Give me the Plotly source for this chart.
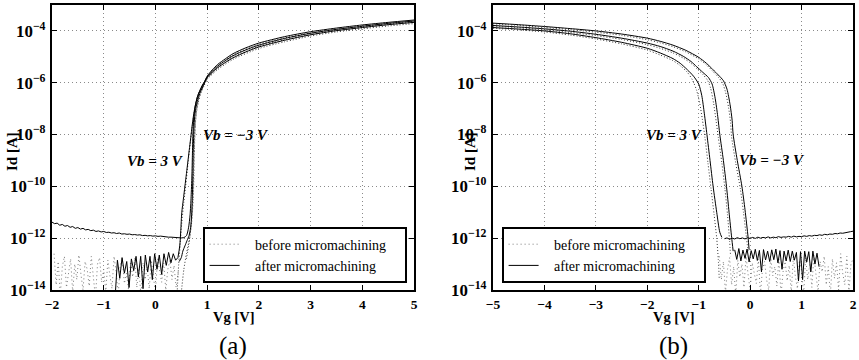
import plotly.graph_objects as go

# Drain current Id versus gate voltage Vg, before and after micromachining,
# for body biases Vb = 3 V, 0 V and -3 V.  Currents are kept as log10(Id [A]).


def sweep(start, step, n):
    """Evenly spaced Vg sweep points."""
    return [round(start + step * i, 4) for i in range(n)]


# ------------------------------------------------------------------ (a) n-channel, Vg = -2 .. 5 V
# after micromachining, Vb = 3 V: noisy floor from -0.78 V (step 0.045 V), then turn-on
a_after_vb3_floor_log = [
    -14.3, -12.85, -13.55, -12.75, -13.35, -12.9, -13.9, -12.8, -13.25, -12.7, -13.5, -12.7,
    -13.95, -12.65, -13.3, -12.7, -13.6, -12.6, -13.2, -12.65, -13.4, -12.6, -13.05, -12.55,
    -12.95, -12.6, -12.85, -12.75,
]
a_after_vb3_on_vg = [0.435, 0.47, 0.49, 0.51, 0.54, 0.57, 0.60, 0.63, 0.66, 0.69, 0.72, 0.75,
                     0.78, 0.82, 0.86, 0.90, 0.95, 1.0, 1.1, 1.2, 1.35, 1.5, 1.75, 2.0, 2.5,
                     3.0, 3.5, 4.0, 4.5, 5.0]
a_after_vb3_on_log = [-12.75, -12.3, -11.7, -11.0, -10.5, -10.0, -9.5, -9.0, -8.5, -8.0, -7.5,
                      -7.1, -6.8, -6.5, -6.3, -6.12, -5.95, -5.75, -5.5, -5.3, -5.08, -4.88,
                      -4.65, -4.47, -4.22, -4.03, -3.89, -3.77, -3.67, -3.58]

# after micromachining, Vb = 0 V: leakage floor from -2 V (step 0.05 V), then turn-on
a_after_vb0_floor_log = [
    -11.38, -11.44, -11.42, -11.50, -11.47, -11.54, -11.51, -11.58, -11.55, -11.62, -11.59,
    -11.65, -11.62, -11.68, -11.66, -11.71, -11.69, -11.74, -11.72, -11.76, -11.74, -11.78,
    -11.77, -11.80, -11.79, -11.82, -11.80, -11.84, -11.83, -11.85, -11.84, -11.87, -11.86,
    -11.88, -11.87, -11.90, -11.89, -11.91, -11.90, -11.92, -11.91, -11.93, -11.92, -11.94,
    -11.95, -11.96, -11.96, -11.97, -11.98, -11.99, -11.99, -11.98,
]
a_after_vb0_on_vg = [0.55, 0.60, 0.64, 0.67, 0.69, 0.705, 0.715, 0.725, 0.74, 0.77, 0.81,
                     0.86, 0.92, 1.0, 1.1, 1.2, 1.35, 1.5, 1.75, 2.0, 2.5, 3.0, 3.5, 4.0,
                     4.5, 5.0]
a_after_vb0_on_log = [-11.98, -11.9, -11.6, -11.1, -10.4, -9.6, -8.8, -8.0, -7.4, -6.9, -6.55,
                      -6.3, -6.08, -5.78, -5.55, -5.36, -5.15, -4.96, -4.73, -4.55, -4.29,
                      -4.09, -3.94, -3.82, -3.71, -3.62]

# after micromachining, Vb = -3 V
a_after_vbm3_vg = [0.46, 0.50, 0.53, 0.57, 0.61, 0.65, 0.68, 0.70, 0.715, 0.725, 0.73, 0.74,
                   0.755, 0.78, 0.82, 0.87, 0.93, 1.0, 1.1, 1.2, 1.35, 1.5, 1.75, 2.0, 2.5,
                   3.0, 3.5, 4.0, 4.5, 5.0]
a_after_vbm3_log = [-12.9, -12.75, -12.5, -12.3, -12.1, -11.9, -11.6, -11.1, -10.3, -9.5,
                    -8.7, -8.0, -7.4, -7.0, -6.65, -6.35, -6.1, -5.8, -5.6, -5.42, -5.22,
                    -5.04, -4.81, -4.62, -4.36, -4.15, -3.99, -3.87, -3.76, -3.67]

# before micromachining: noise floor from -1.96 V (step 0.04 V)
a_before_floor_log = [
    -12.6, -13.8, -12.9, -14.2, -13.1, -12.7, -13.9, -13.3, -12.8, -14.1, -13.0, -13.6,
    -12.65, -13.4, -14.0, -12.9, -13.2, -13.85, -12.7, -13.5, -14.3, -13.0, -12.75, -13.7,
    -13.2, -14.1, -12.85, -13.45, -13.95, -12.7, -13.3, -14.2, -13.05, -12.8, -13.75, -13.35,
    -14.0, -12.9, -13.5, -12.75, -13.9, -13.15, -14.25, -12.95, -13.6, -13.1, -13.95, -12.85,
    -13.4, -14.1, -12.8, -13.3, -13.7, -12.95, -14.0, -13.2, -12.85, -13.6, -13.05, -13.9,
    -13.3,
]
# before micromachining, Vb = 3 V / 0 V / -3 V
a_before_vb3_vg = [0.42, 0.45, 0.48, 0.51, 0.55, 0.59, 0.63, 0.67, 0.71, 0.75, 0.80, 0.86,
                   0.93, 1.0, 1.2, 1.5, 2.0, 2.5, 3.0, 3.5, 4.0, 4.5, 5.0]
a_before_vb3_log = [-14.1, -13.0, -12.2, -11.4, -10.6, -9.9, -9.1, -8.4, -7.7, -7.15, -6.7,
                    -6.35, -6.08, -5.82, -5.37, -4.93, -4.52, -4.27, -4.08, -3.94, -3.82,
                    -3.72, -3.63]
a_before_vb0_vg = [0.60, 0.65, 0.69, 0.72, 0.735, 0.75, 0.77, 0.80, 0.85, 0.92, 1.0, 1.2,
                   1.5, 2.0, 2.5, 3.0, 3.5, 4.0, 4.5, 5.0]
a_before_vb0_log = [-12.8, -12.2, -11.5, -10.5, -9.5, -8.5, -7.6, -7.0, -6.5, -6.15, -5.85,
                    -5.45, -5.02, -4.6, -4.34, -4.14, -3.99, -3.87, -3.76, -3.67]
a_before_vbm3_vg = [0.50, 0.55, 0.60, 0.66, 0.70, 0.73, 0.745, 0.755, 0.77, 0.79, 0.83, 0.88,
                    0.94, 1.0, 1.2, 1.5, 2.0, 2.5, 3.0, 3.5, 4.0, 4.5, 5.0]
a_before_vbm3_log = [-14.1, -13.2, -12.6, -12.0, -11.4, -10.5, -9.5, -8.5, -7.7, -7.2, -6.75,
                     -6.4, -6.12, -5.87, -5.5, -5.1, -4.68, -4.42, -4.2, -4.04, -3.92, -3.81,
                     -3.72]

# ------------------------------------------------------------------ (b) p-channel, Vg = -5 .. 2 V
# after micromachining, Vb = 3 V: turn-off, then leakage floor from -0.5 V (step 0.05 V)
b_after_vb3_off_vg = [-5.0, -4.5, -4.0, -3.5, -3.0, -2.5, -2.0, -1.75, -1.5, -1.36, -1.22,
                      -1.1, -1.0, -0.94, -0.89, -0.84, -0.78, -0.72, -0.65, -0.59, -0.55]
b_after_vb3_off_log = [-3.87, -3.93, -4.0, -4.11, -4.26, -4.44, -4.67, -4.85, -5.07, -5.25,
                       -5.5, -5.75, -6.05, -6.5, -7.2, -8.0, -9.0, -10.0, -11.0, -11.77,
                       -11.97]
b_after_vb3_floor_log = [
    -12.02, -11.99, -12.04, -12.00, -12.03, -11.98, -12.02, -11.99, -12.03, -11.98, -12.01,
    -11.97, -12.01, -11.96, -12.00, -11.97, -11.99, -11.95, -11.99, -11.96, -11.98, -11.94,
    -11.97, -11.95, -11.96, -11.93, -11.96, -11.92, -11.95, -11.93, -11.94, -11.91, -11.93,
    -11.90, -11.92, -11.89, -11.90, -11.87, -11.89, -11.85, -11.87, -11.84, -11.85, -11.82,
    -11.83, -11.80, -11.81, -11.78, -11.78, -11.75, -11.73,
]
# after micromachining, Vb = 0 V: turn-off, then noisy floor from -0.30 V (step 0.04 V)
b_after_vb0_off_vg = [-5.0, -4.5, -4.0, -3.5, -3.0, -2.5, -2.0, -1.75, -1.5, -1.3, -1.15,
                      -1.04, -0.92, -0.81, -0.74, -0.68, -0.63, -0.59, -0.52, -0.46, -0.41,
                      -0.36, -0.33]
b_after_vb0_off_log = [-3.79, -3.85, -3.92, -4.01, -4.13, -4.28, -4.47, -4.6, -4.78, -4.98,
                       -5.18, -5.38, -5.6, -5.8, -6.05, -6.6, -7.3, -8.0, -9.0, -10.0, -11.0,
                       -11.97, -12.5]
b_after_vb0_floor_log = [
    -12.45, -12.82, -12.40, -12.88, -12.46, -12.78, -12.42, -12.92, -12.48, -12.80, -12.43,
    -12.86, -12.47, -13.30, -12.44, -12.84, -12.50, -12.90, -12.45, -12.83, -12.42, -12.95,
    -12.48, -13.20, -12.50, -12.88, -12.46, -12.90, -12.50, -12.85, -12.55, -13.65, -12.52,
    -13.60, -12.50, -12.92, -12.52, -13.30, -12.50, -13.00, -12.58, -13.10,
]
# after micromachining, Vb = -3 V
b_after_vbm3_vg = [-5.0, -4.5, -4.0, -3.5, -3.0, -2.5, -2.0, -1.75, -1.5, -1.25, -1.0, -0.85,
                   -0.72, -0.62, -0.52, -0.45, -0.39, -0.35, -0.33, -0.25, -0.16, -0.10,
                   -0.04, -0.02]
b_after_vbm3_log = [-3.70, -3.76, -3.83, -3.91, -4.0, -4.12, -4.28, -4.4, -4.55, -4.75, -5.02,
                    -5.25, -5.5, -5.7, -5.92, -6.25, -6.85, -7.45, -8.0, -9.0, -10.0, -10.9,
                    -11.97, -12.45]

# before micromachining, Vb = 3 V / 0 V / -3 V
b_before_vb3_vg = [-5.0, -4.5, -4.0, -3.5, -3.0, -2.5, -2.0, -1.75, -1.5, -1.36, -1.22, -1.12,
                   -1.04, -0.98, -0.93, -0.88, -0.82, -0.76, -0.70, -0.65, -0.62, -0.60]
b_before_vb3_log = [-3.9, -3.96, -4.04, -4.16, -4.31, -4.5, -4.74, -4.93, -5.15, -5.34, -5.6,
                    -5.9, -6.3, -6.8, -7.4, -8.1, -9.1, -10.1, -11.1, -12.0, -12.8, -13.6]
b_before_vb0_vg = [-5.0, -4.5, -4.0, -3.5, -3.0, -2.5, -2.0, -1.75, -1.5, -1.3, -1.15, -1.04,
                   -0.92, -0.83, -0.77, -0.71, -0.66, -0.62, -0.55, -0.49, -0.44, -0.40,
                   -0.38]
b_before_vb0_log = [-3.82, -3.88, -3.96, -4.06, -4.18, -4.33, -4.53, -4.67, -4.85, -5.05,
                    -5.25, -5.45, -5.68, -5.9, -6.2, -6.8, -7.5, -8.1, -9.1, -10.1, -11.1,
                    -12.1, -12.7]
b_before_vbm3_vg = [-5.0, -4.5, -4.0, -3.5, -3.0, -2.5, -2.0, -1.75, -1.5, -1.25, -1.0, -0.85,
                    -0.72, -0.62, -0.54, -0.48, -0.42, -0.38, -0.36, -0.28, -0.19, -0.13,
                    -0.07, -0.04]
b_before_vbm3_log = [-3.73, -3.79, -3.87, -3.95, -4.05, -4.17, -4.34, -4.46, -4.61, -4.81,
                     -5.08, -5.31, -5.57, -5.78, -6.0, -6.35, -6.95, -7.55, -8.1, -9.1, -10.1,
                     -11.0, -12.0, -12.5]
# before micromachining: noise floor from -0.60 V (step 0.04 V)
b_before_floor_log = [
    -12.7, -13.6, -12.9, -14.1, -13.2, -12.75, -13.8, -13.1, -14.2, -12.85, -13.5, -13.0,
    -13.9, -12.7, -13.4, -14.0, -12.95, -13.3, -13.75, -12.8, -14.15, -13.2, -12.9, -13.6,
    -14.0, -12.75, -13.45, -13.1, -13.85, -12.8, -14.2, -13.3, -12.9, -13.65, -13.05, -14.1,
    -12.7, -13.5, -13.95, -12.85, -13.25, -14.2, -12.75, -13.6, -13.0, -13.9, -12.65, -13.4,
    -14.05, -12.9, -13.3, -12.7, -13.8, -13.1, -14.2, -12.8, -13.55, -12.95, -14.0, -12.6,
    -13.35, -13.8, -12.7, -14.1, -13.0, -12.8,
]

LEGEND_BEFORE = "before micromachining"
LEGEND_AFTER = "after micromachining"
PANEL_LABELS = ["(a)", "(b)"]
X_TITLE = "Vg [V]"
Y_TITLE = "Id [A]"

SERIF = "Liberation Serif"
DOT = "1px,2px"
NBSP = "\u00a0"


def amps(logs):
    return [10.0 ** v for v in logs]


fig = go.Figure()


def add(vg, logs, axes, dotted, smooth=False, name=None, legend="legend", color=None,
        dash=None):
    fig.add_trace(go.Scatter(
        x=vg, y=amps(logs), mode="lines",
        xaxis=axes[0], yaxis=axes[1],
        line=dict(color=color or ("#333" if dotted else "black"), width=1,
                  dash=dash or (DOT if dotted else "solid"),
                  shape="spline" if smooth else "linear",
                  smoothing=0.7 if smooth else None),
        name=name or "", showlegend=name is not None,
        legend=legend, hoverinfo="skip",
    ))


A = ("x", "y")
B = ("x2", "y2")
NOISE_GREY = "#7a7a7a"
NOISE_DOT = "1px,3px"

# panel (a)
add(sweep(-1.96, 0.04, len(a_before_floor_log)), a_before_floor_log, A, True,
    name=NBSP * 3 + LEGEND_BEFORE + NBSP * 4, legend="legend", color=NOISE_GREY,
    dash=NOISE_DOT)
add(a_before_vb3_vg, a_before_vb3_log, A, True, smooth=True)
add(a_before_vb0_vg, a_before_vb0_log, A, True, smooth=True)
add(a_before_vbm3_vg, a_before_vbm3_log, A, True, smooth=True)
add(sweep(-0.78, 0.045, len(a_after_vb3_floor_log)), a_after_vb3_floor_log, A, False,
    name=NBSP * 3 + LEGEND_AFTER, legend="legend")
add(a_after_vb3_on_vg, a_after_vb3_on_log, A, False, smooth=True)
add(sweep(-2.0, 0.05, len(a_after_vb0_floor_log)), a_after_vb0_floor_log, A, False)
add(a_after_vb0_on_vg, a_after_vb0_on_log, A, False, smooth=True)
add(a_after_vbm3_vg, a_after_vbm3_log, A, False, smooth=True)

# panel (b)
add(sweep(-0.60, 0.04, len(b_before_floor_log)), b_before_floor_log, B, True,
    name=NBSP * 3 + LEGEND_BEFORE + NBSP * 4, legend="legend2", color=NOISE_GREY,
    dash=NOISE_DOT)
add(b_before_vb3_vg, b_before_vb3_log, B, True, smooth=True)
add(b_before_vb0_vg, b_before_vb0_log, B, True, smooth=True)
add(b_before_vbm3_vg, b_before_vbm3_log, B, True, smooth=True)
add(b_after_vb3_off_vg, b_after_vb3_off_log, B, False, smooth=True,
    name=NBSP * 3 + LEGEND_AFTER, legend="legend2")
add(sweep(-0.5, 0.05, len(b_after_vb3_floor_log)), b_after_vb3_floor_log, B, False)
add(b_after_vb0_off_vg, b_after_vb0_off_log, B, False, smooth=True)
add(sweep(-0.30, 0.04, len(b_after_vb0_floor_log)), b_after_vb0_floor_log, B, False)
add(b_after_vbm3_vg, b_after_vbm3_log, B, False, smooth=True)

W, H = 859, 360
tick_font = dict(family=SERIF, size=13.5, color="black", weight="bold")
GRID = dict(showgrid=True, gridcolor="#8a8a8a", gridwidth=1, griddash="1px,3px")
FRAME = dict(showline=True, linecolor="black", linewidth=1.6, mirror="ticks",
             ticks="inside", ticklen=5, tickwidth=1, tickcolor="black", zeroline=False,
             automargin=False)

common_x = dict(dtick=1, tickfont=tick_font, ticklabelstandoff=1, **FRAME, **GRID)
common_y = dict(type="log", range=[-14, -3], dtick=2, tick0=0, exponentformat="power",
                tickfont=tick_font, ticklabelstandoff=2, **FRAME, **GRID)

legend_style = dict(yanchor="bottom", xanchor="left", y=1 - 283 / H,
                    bgcolor="white", bordercolor="black", borderwidth=1.6,
                    font=dict(family=SERIF, size=14, color="black"), tracegroupgap=0)

ydom = [1 - 290 / H, 1 - 5 / H]
fig.update_layout(
    width=W, height=H, autosize=False,
    margin=dict(l=0, r=0, t=0, b=0, pad=0, autoexpand=False),
    paper_bgcolor="white", plot_bgcolor="white",
    xaxis=dict(domain=[52 / W, 414 / W], range=[-2, 5], anchor="y", **common_x),
    yaxis=dict(domain=ydom, anchor="x", **common_y),
    xaxis2=dict(domain=[493 / W, 853 / W], range=[-5, 2], anchor="y2", **common_x),
    yaxis2=dict(domain=ydom, anchor="x2", **common_y),
    legend=dict(x=203 / W, **legend_style),
    legend2=dict(x=502 / W, **legend_style),
    font=dict(family=SERIF, color="black"),
)

ann = []
label_font = dict(family=SERIF, size=15, color="black")
for xr, yr, x, y, txt in [
    ("x", "y", 0.0, -9.04, "<b><i>Vb = 3 V</i></b>"),
    ("x", "y", 1.55, -8.0, "<b><i>Vb = \u22123 V</i></b>"),
    ("x2", "y2", -1.48, -8.0, "<b><i>Vb = 3 V</i></b>"),
    ("x2", "y2", 0.42, -9.0, "<b><i>Vb = \u22123 V</i></b>"),
]:
    ann.append(dict(xref=xr, yref=yr, x=x, y=y, text=txt, showarrow=False,
                    font=label_font, xanchor="center", yanchor="middle"))

for cx, lab in [((52 + 414) / 2, PANEL_LABELS[0]), ((493 + 853) / 2, PANEL_LABELS[1])]:
    ann.append(dict(xref="paper", yref="paper", x=cx / W, y=1 - 317 / H,
                    text="<b>" + X_TITLE + "</b>", showarrow=False,
                    font=dict(family=SERIF, size=14.5, color="black"),
                    xanchor="center", yanchor="middle"))
    ann.append(dict(xref="paper", yref="paper", x=cx / W, y=1 - 346 / H, text=lab,
                    showarrow=False, font=dict(family=SERIF, size=25, color="black"),
                    xanchor="center", yanchor="middle"))

for lx in [12, 470]:
    ann.append(dict(xref="paper", yref="paper", x=lx / W, y=1 - 152 / H,
                    text="<b>" + Y_TITLE + "</b>", showarrow=False, textangle=-90,
                    font=dict(family=SERIF, size=15, color="black"),
                    xanchor="center", yanchor="middle"))

fig.update_layout(annotations=ann)
fig.write_html("out.html")
